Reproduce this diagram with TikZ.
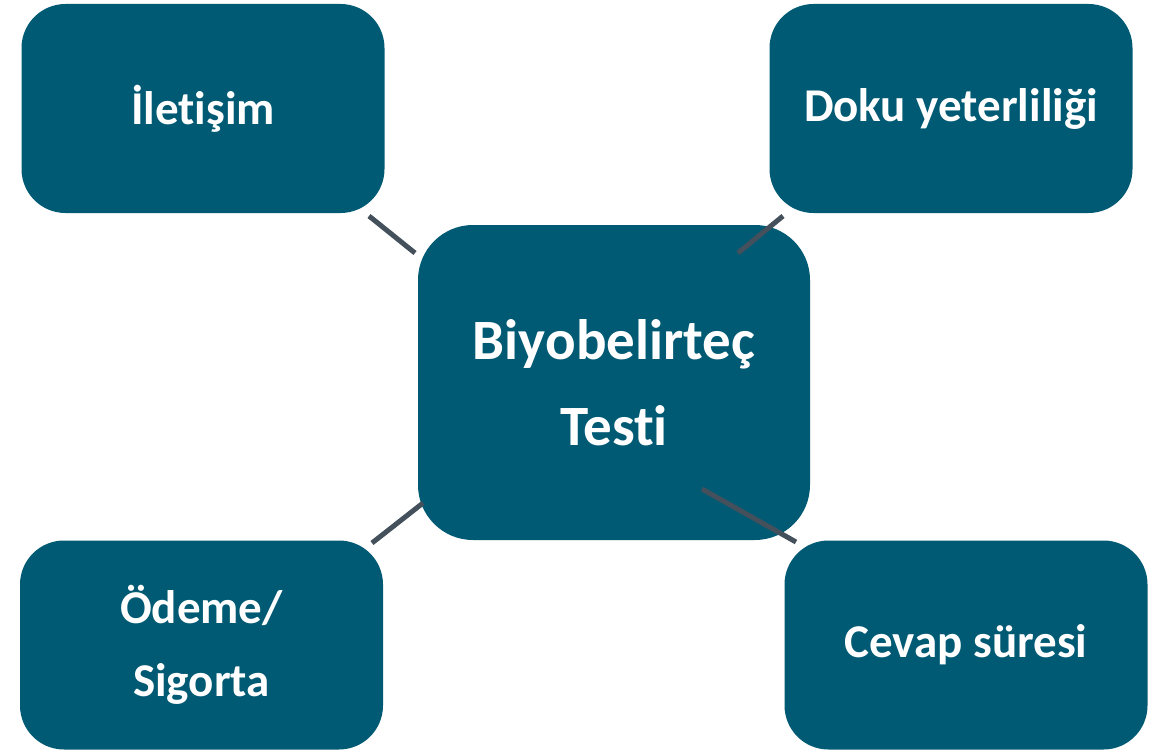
\documentclass[tikz,border=0pt]{standalone}
\usepackage{fontspec}
\setmainfont[RawFeature=-liga]{Carlito}
\definecolor{boxteal}{RGB}{0,90,115}
\definecolor{linkgray}{RGB}{68,80,92}
\begin{document}
\begin{tikzpicture}[x=1pt,y=-1pt,
  topic/.style={fill=boxteal,draw=none,rounded corners=44pt,
    minimum width=363pt,minimum height=209pt,inner sep=0pt,
    text=white,font=\fontsize{47}{73}\selectfont\bfseries,align=center},
  hub/.style={fill=boxteal,draw=none,rounded corners=55pt,
    minimum width=392pt,minimum height=315pt,inner sep=0pt,
    text=white,font=\fontsize{57}{86}\selectfont\bfseries,align=center},
  link/.style={draw=linkgray,line width=5pt}]
\useasboundingbox (0,0) rectangle (1167,752);
% outer topics and the central test
\node[topic] (ilet)  at (203,108.5) {İletişim};
\node[topic] (doku)  at (951,108.5) {Doku yeterliliği};
\node[hub]   (hub)   at (614,382.5) {Biyobelirteç\\Testi};
\node[topic] (odeme) at (201.5,645) {Ödeme/\\Sigorta};
\node[topic] (cevap) at (966,645)   {Cevap süresi};
% short links between the hub and each topic
\coordinate (ilet-end)  at (369,216); \coordinate (hub-nw) at (415,253);
\coordinate (doku-end)  at (783,216); \coordinate (hub-ne) at (738,253);
\coordinate (odeme-end) at (372,543); \coordinate (hub-sw) at (423,503);
\coordinate (cevap-end) at (796,542); \coordinate (hub-se) at (702,489);
\draw[link] (ilet-end)  -- (hub-nw);
\draw[link] (doku-end)  -- (hub-ne);
\draw[link] (hub-sw)    -- (odeme-end);
\draw[link] (hub-se)    -- (cevap-end);
\end{tikzpicture}
\end{document}
